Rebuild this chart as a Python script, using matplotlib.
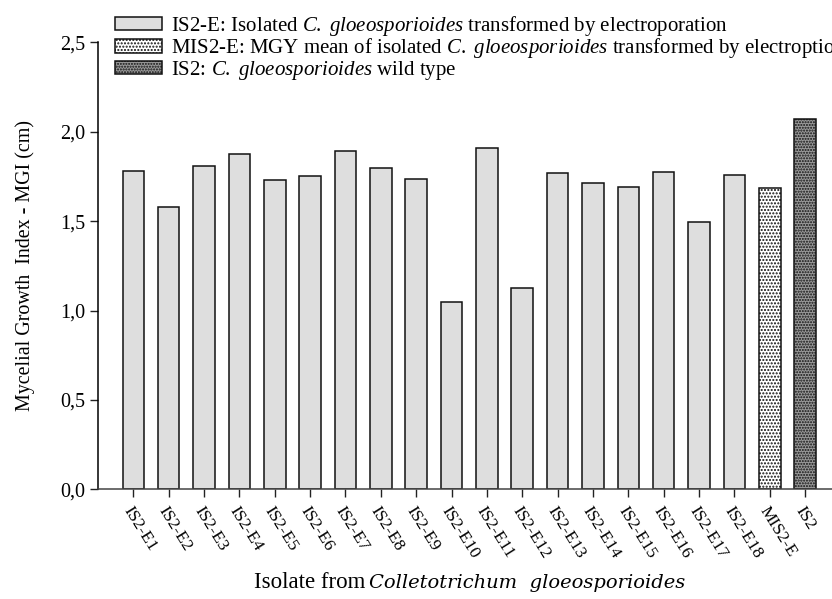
import matplotlib
matplotlib.use("Agg")
import matplotlib.pyplot as plt
from matplotlib.patches import Patch

plt.rcParams['font.family'] = ['Liberation Serif', 'DejaVu Serif']
plt.rcParams['mathtext.fontset'] = 'custom'
plt.rcParams['mathtext.rm'] = 'Liberation Serif'
plt.rcParams['mathtext.it'] = 'Liberation Serif:italic'
plt.rcParams['hatch.linewidth'] = 1.0

categories = ['IS2-E1', 'IS2-E2', 'IS2-E3', 'IS2-E4', 'IS2-E5', 'IS2-E6', 'IS2-E7',
              'IS2-E8', 'IS2-E9', 'IS2-E10', 'IS2-E11', 'IS2-E12', 'IS2-E13', 'IS2-E14',
              'IS2-E15', 'IS2-E16', 'IS2-E17', 'IS2-E18', 'MIS2-E', 'IS2']
values = [1.782, 1.579, 1.810, 1.875, 1.728, 1.752, 1.894, 1.797, 1.734, 1.046,
          1.909, 1.128, 1.769, 1.713, 1.691, 1.776, 1.493, 1.760, 1.683, 2.069]
yticks = [0.0, 0.5, 1.0, 1.5, 2.0, 2.5]
ytick_labels = ['0,0', '0,5', '1,0', '1,5', '2,0', '2,5']
legend_labels = [
    r'IS2-E: Isolated $C.\ gloeosporioides$ transformed by electroporation',
    r'MIS2-E: MGY mean of isolated $C.\ gloeosporioides$ transformed by electroption',
    r'IS2: $C.\ gloeosporioides$ wild type',
]

fig = plt.figure(figsize=(8.32, 5.99), dpi=100)
ax = fig.add_axes([97.7 / 832, 1 - 489.3 / 599, 1 - 97.7 / 832, (489.3 - 42.3) / 599])

light = '#dedede'
styles = []
for c in categories:
    if c == 'MIS2-E':
        styles.append(dict(facecolor='white', hatch='.....'))
    elif c == 'IS2':
        styles.append(dict(facecolor='#9a9a9a', hatch='......'))
    else:
        styles.append(dict(facecolor=light, hatch=None))

x = list(range(len(categories)))
for xi, v, st in zip(x, values, styles):
    ax.bar(xi, v, width=0.61, facecolor=st['facecolor'], hatch=st['hatch'],
           edgecolor='#111111', linewidth=1.1)

ax.set_xlim(-1.007, 19.76)
ax.set_ylim(0, 2.5)
ax.set_yticks(yticks)
ax.set_yticklabels(ytick_labels, fontsize=14.5)
ax.set_xticks(x)
ax.set_xticklabels(categories, rotation=-58, ha='left', va='top',
                   rotation_mode='anchor', fontsize=12.5)
ax.tick_params(axis='both', direction='out', length=6, width=1.0, color='#222222')
ax.tick_params(axis='x', pad=4)
ax.tick_params(axis='y', pad=3)
for s in ['top', 'right']:
    ax.spines[s].set_visible(False)
ax.spines['left'].set_linewidth(1.1)
ax.spines['bottom'].set_linewidth(1.1)
ax.spines['bottom'].set_color('#444444')

ax.set_ylabel('Mycelial Growth  Index - MGI (cm)', fontsize=14.4, labelpad=18)
fig.text(365 / 832, 1 - 583 / 599, 'Isolate from', ha='right', va='center',
         fontsize=16.5)
fig.text(369 / 832, 1 - 583 / 599, 'Colletotrichum  gloeosporioides', ha='left',
         va='center', fontsize=14, family='DejaVu Serif', style='italic')

handles = [Patch(facecolor=light, edgecolor='#111111', linewidth=1.1),
           Patch(facecolor='white', edgecolor='#111111', hatch='.....', linewidth=1.1),
           Patch(facecolor='#9a9a9a', edgecolor='#111111', hatch='......', linewidth=1.1)]
fig.legend(handles, legend_labels, loc='upper left',
           bbox_to_anchor=(115 / 832, 1 - 14 / 599), frameon=False,
           fontsize=15, handlelength=2.25, handleheight=0.6, handletextpad=0.45,
           labelspacing=-0.08, borderpad=0, borderaxespad=0)

fig.savefig('out.png', dpi=100)
